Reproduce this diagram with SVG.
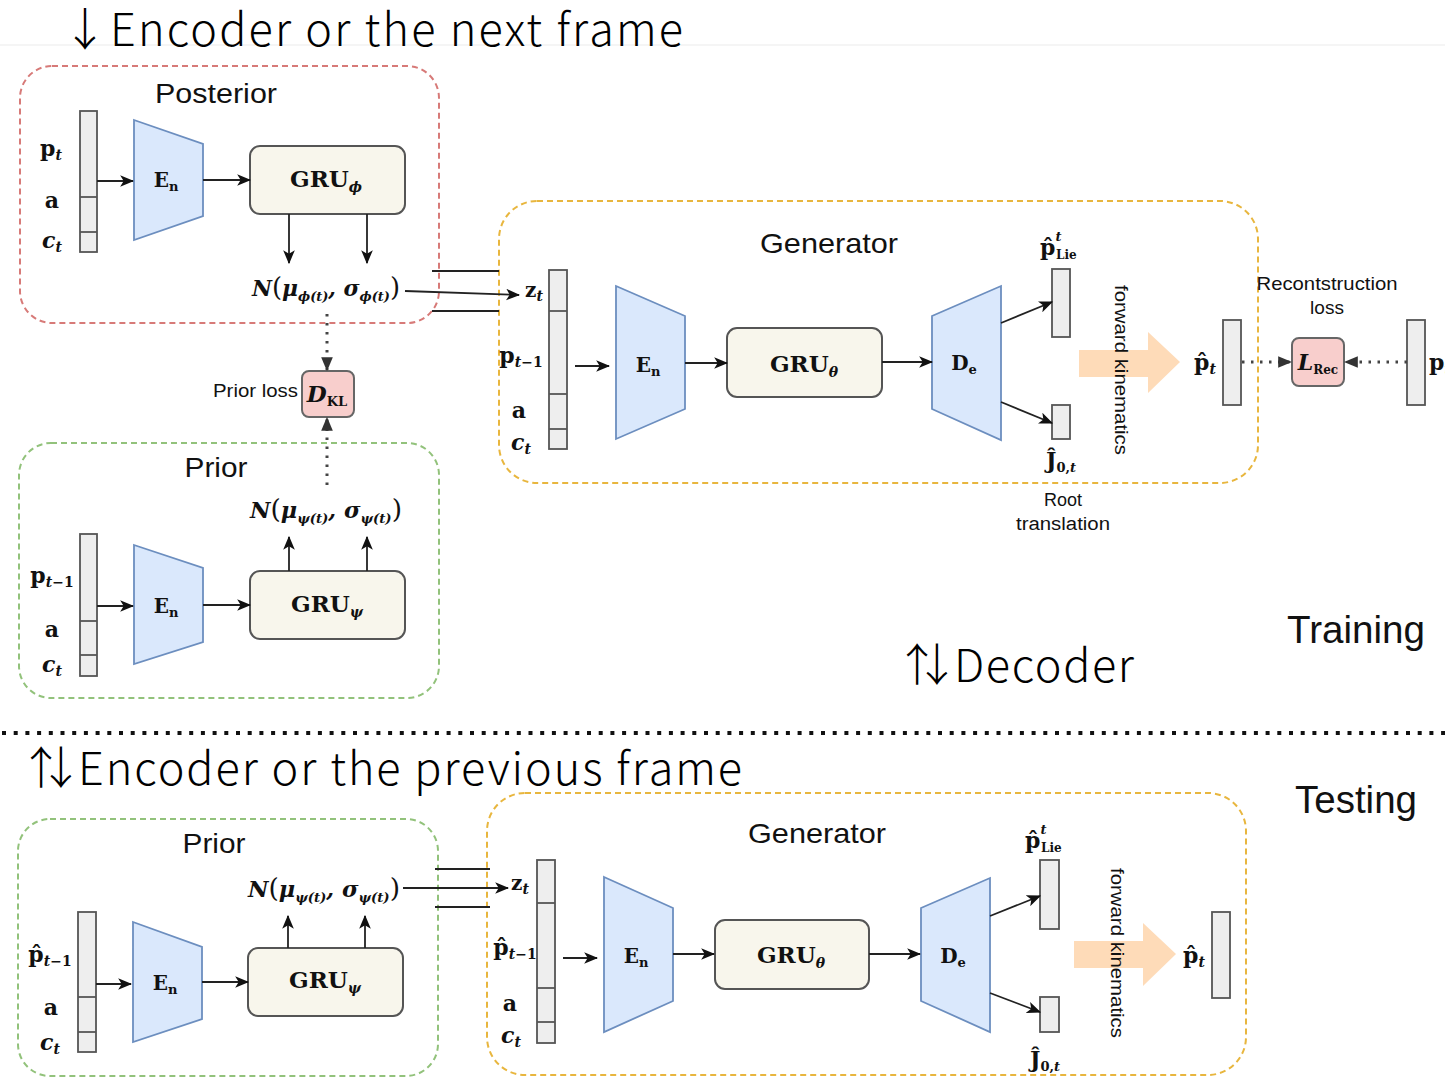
<svg xmlns="http://www.w3.org/2000/svg" width="1445" height="1080" viewBox="0 0 1445 1080">
<defs>
<style>
.lbl{font-family:"Liberation Sans",Arial,sans-serif;fill:#111;}
.m{font-family:"DejaVu Serif","Liberation Serif",serif;font-weight:bold;fill:#111;}
.i{font-style:italic;}
.ttl{font-family:"Noto Sans CJK JP","DejaVu Sans",sans-serif;font-weight:300;fill:#000;}
.post{fill:none;stroke:#d77a78;stroke-width:2;stroke-dasharray:6 4;}
.prior{fill:none;stroke:#92c27b;stroke-width:2;stroke-dasharray:6 4;}
.gen{fill:none;stroke:#e8b63e;stroke-width:2;stroke-dasharray:6 4;}
.trap{fill:#dae8fc;stroke:#6c8ebf;stroke-width:1.8;}
.gru{fill:#f8f6ec;stroke:#555;stroke-width:2;}
.bar{fill:#eeeeee;stroke:#555;stroke-width:1.8;}
.div{stroke:#555;stroke-width:1.8;}
.loss{fill:#f8cecc;stroke:#666;stroke-width:2;}
.fk{fill:#fedbb8;}
.ln{stroke:#222;stroke-width:1.8;fill:none;}
.arr{stroke:#222;stroke-width:1.8;fill:none;marker-end:url(#ah);}
.dot{stroke:#444;stroke-width:3;fill:none;stroke-dasharray:2.5 6.5;marker-end:url(#bh);}
</style>
<marker id="ah" viewBox="0 0 12 10" refX="11" refY="5" markerWidth="14" markerHeight="12" orient="auto" markerUnits="userSpaceOnUse">
<path d="M0,0 L12,5 L0,10 L3,5 z" fill="#111"/>
</marker>
<marker id="bh" viewBox="0 0 12 10" refX="11" refY="5" markerWidth="14" markerHeight="12" orient="auto" markerUnits="userSpaceOnUse">
<path d="M0,0 L12,5 L0,10 z" fill="#333"/>
</marker>
</defs>
<rect x="0" y="0" width="1445" height="1080" fill="#ffffff"/>
<line x1="0" y1="45" x2="1445" y2="45" stroke="#f2f2f2" stroke-width="1.5"/>

<!-- titles -->
<g id="titles">
<text class="ttl" x="85" y="46" font-size="45" text-anchor="middle">↓</text>
<text class="ttl" x="110" y="46" font-size="45" textLength="573">Encoder or the next frame</text>
<text class="ttl" x="927" y="682" font-size="45" text-anchor="middle">⇅</text>
<text class="ttl" x="954" y="682" font-size="45" textLength="180">Decoder</text>
<text class="ttl" x="51" y="785" font-size="45" text-anchor="middle">⇅</text>
<text class="ttl" x="78" y="785" font-size="45" textLength="664">Encoder or the previous frame</text>
<text class="lbl" x="1287" y="643" font-size="38" textLength="138" lengthAdjust="spacingAndGlyphs">Training</text>
<text class="lbl" x="1295" y="813" font-size="38" textLength="122" lengthAdjust="spacingAndGlyphs">Testing</text>
</g>

<!-- separator -->
<line x1="2" y1="733" x2="1445" y2="733" stroke="#111" stroke-width="4" stroke-dasharray="4 7.7"/>

<!-- ===== Training: Posterior ===== -->
<g id="posterior">
<rect class="post" x="20" y="66" width="419" height="257" rx="32"/>
<text class="lbl" x="216" y="103" font-size="27" text-anchor="middle" textLength="122" lengthAdjust="spacingAndGlyphs">Posterior</text>
</g>
<g id="post-input">
<rect class="bar" x="80" y="111" width="17" height="141"/>
<line class="div" x1="80" y1="197" x2="97" y2="197"/>
<line class="div" x1="80" y1="232" x2="97" y2="232"/>
<text class="m" x="51" y="156" font-size="22" text-anchor="middle">p<tspan class="i" font-size="14" dy="4">t</tspan></text>
<text class="m" x="52" y="208" font-size="22" text-anchor="middle">a</text>
<text class="m" x="52" y="248" font-size="22" text-anchor="middle"><tspan class="i">c</tspan><tspan class="i" font-size="14" dy="4">t</tspan></text>
</g>
<g id="post-en">
<polygon class="trap" points="134,120 203,144 203,216 134,240"/>
<text class="m" x="166" y="187" font-size="20" text-anchor="middle">E<tspan font-size="13" dy="4">n</tspan></text>
</g>
<g id="post-gru">
<rect class="gru" x="250" y="146" width="155" height="68" rx="10"/>
<text class="m" x="326" y="187" font-size="23" text-anchor="middle">GRU<tspan class="i" font-size="14" dy="5">ϕ</tspan></text>
</g>
<g id="post-dist">
<text class="m i" x="252" y="296" font-size="22" textLength="148" lengthAdjust="spacingAndGlyphs">N<tspan font-style="normal" font-weight="normal" font-size="26">(</tspan>μ<tspan font-size="13" dy="5">ϕ(t)</tspan><tspan dy="-5">, σ</tspan><tspan font-size="13" dy="5">ϕ(t)</tspan><tspan font-style="normal" font-weight="normal" font-size="26" dy="-5">)</tspan></text>
</g>

<!-- Prior loss -->
<g id="dkl">
<rect class="loss" x="302" y="371" width="52" height="46" rx="7"/>
<text class="m" x="327" y="402" font-size="23" text-anchor="middle"><tspan class="i">D</tspan><tspan font-size="13" dy="4">KL</tspan></text>
<text class="lbl" x="298" y="397" font-size="19" text-anchor="end" textLength="85" lengthAdjust="spacingAndGlyphs">Prior loss</text>
</g>

<!-- ===== Training: Prior ===== -->
<g id="prior-train">
<rect class="prior" x="19" y="443" width="420" height="255" rx="32"/>
<text class="lbl" x="216" y="477" font-size="27" text-anchor="middle" textLength="63" lengthAdjust="spacingAndGlyphs">Prior</text>
</g>
<g id="prior-input">
<rect class="bar" x="80" y="534" width="17" height="142"/>
<line class="div" x1="80" y1="621" x2="97" y2="621"/>
<line class="div" x1="80" y1="655" x2="97" y2="655"/>
<text class="m" x="52" y="583" font-size="22" text-anchor="middle">p<tspan font-size="14" dy="4"><tspan class="i">t</tspan>−1</tspan></text>
<text class="m" x="52" y="637" font-size="22" text-anchor="middle">a</text>
<text class="m" x="52" y="672" font-size="22" text-anchor="middle"><tspan class="i">c</tspan><tspan class="i" font-size="14" dy="4">t</tspan></text>
</g>
<g id="prior-en">
<polygon class="trap" points="134,545 203,568 203,642 134,664"/>
<text class="m" x="166" y="613" font-size="20" text-anchor="middle">E<tspan font-size="13" dy="4">n</tspan></text>
</g>
<g id="prior-gru">
<rect class="gru" x="250" y="571" width="155" height="68" rx="10"/>
<text class="m" x="327" y="612" font-size="23" text-anchor="middle">GRU<tspan class="i" font-size="14" dy="5">ψ</tspan></text>
</g>
<g id="prior-dist">
<text class="m i" x="250" y="518" font-size="22" textLength="152" lengthAdjust="spacingAndGlyphs">N<tspan font-style="normal" font-weight="normal" font-size="26">(</tspan>μ<tspan font-size="13" dy="5">ψ(t)</tspan><tspan dy="-5">, σ</tspan><tspan font-size="13" dy="5">ψ(t)</tspan><tspan font-style="normal" font-weight="normal" font-size="26" dy="-5">)</tspan></text>
</g>

<!-- ===== Training: Generator ===== -->
<g id="gen-train">
<rect class="gen" x="499" y="201" width="759" height="282" rx="38"/>
<text class="lbl" x="829" y="253" font-size="28" text-anchor="middle" textLength="138" lengthAdjust="spacingAndGlyphs">Generator</text>
</g>
<g id="gen-input">
<rect class="bar" x="549" y="270" width="18" height="179"/>
<line class="div" x1="549" y1="311" x2="567" y2="311"/>
<line class="div" x1="549" y1="394" x2="567" y2="394"/>
<line class="div" x1="549" y1="429" x2="567" y2="429"/>
<text class="m" x="534" y="297" font-size="20" text-anchor="middle">z<tspan class="i" font-size="14" dy="4">t</tspan></text>
<text class="m" x="521" y="363" font-size="22" text-anchor="middle">p<tspan font-size="14" dy="4"><tspan class="i">t</tspan>−1</tspan></text>
<text class="m" x="519" y="418" font-size="22" text-anchor="middle">a</text>
<text class="m" x="521" y="450" font-size="22" text-anchor="middle"><tspan class="i">c</tspan><tspan class="i" font-size="14" dy="4">t</tspan></text>
</g>
<g id="gen-en">
<polygon class="trap" points="616,286 685,316 685,409 616,439"/>
<text class="m" x="648" y="372" font-size="20" text-anchor="middle">E<tspan font-size="13" dy="4">n</tspan></text>
</g>
<g id="gen-gru">
<rect class="gru" x="727" y="328" width="155" height="69" rx="10"/>
<text class="m" x="804" y="372" font-size="23" text-anchor="middle">GRU<tspan class="i" font-size="14" dy="5">θ</tspan></text>
</g>
<g id="gen-de">
<polygon class="trap" points="932,316 1001,286 1001,440 932,409"/>
<text class="m" x="964" y="370" font-size="20" text-anchor="middle">D<tspan font-size="13" dy="4">e</tspan></text>
</g>
<g id="gen-plie">
<rect class="bar" x="1052" y="269" width="18" height="68"/>
<text class="m" x="1040" y="255" font-size="22">p̂<tspan class="i" font-size="13" dy="-14">t</tspan><tspan x="1056" font-size="12" dy="18">Lie</tspan></text>
</g>
<g id="gen-j">
<rect class="bar" x="1052" y="405" width="18" height="34"/>
<text class="m" x="1046" y="468" font-size="22">Ĵ<tspan font-size="13" dy="4">0,<tspan class="i">t</tspan></tspan></text>
<text class="lbl" x="1063" y="506" font-size="18" text-anchor="middle">Root</text>
<text class="lbl" x="1063" y="530" font-size="18" text-anchor="middle" textLength="94" lengthAdjust="spacingAndGlyphs">translation</text>
</g>
<g id="gen-fk">
<polygon class="fk" points="1079,350 1148,350 1148,332 1180,362 1148,393 1148,377 1079,377"/>
<text class="lbl" transform="translate(1121,370) rotate(90)" font-size="19" text-anchor="middle" dominant-baseline="central" textLength="170" lengthAdjust="spacingAndGlyphs">forward kinematics</text>
</g>
<g id="gen-pt">
<rect class="bar" x="1223" y="320" width="18" height="85"/>
<text class="m" x="1194" y="370" font-size="22">p̂<tspan class="i" font-size="14" dy="4">t</tspan></text>
</g>
<g id="lrec">
<rect class="loss" x="1292" y="338" width="52" height="48" rx="7"/>
<text class="m" x="1318" y="370" font-size="22" text-anchor="middle"><tspan class="i">L</tspan><tspan font-size="12" dy="4">Rec</tspan></text>
<text class="lbl" x="1327" y="290" font-size="19" text-anchor="middle" textLength="141" lengthAdjust="spacingAndGlyphs">Recontstruction</text>
<text class="lbl" x="1327" y="314" font-size="19" text-anchor="middle">loss</text>
</g>
<g id="gt-pt">
<rect class="bar" x="1407" y="320" width="18" height="85"/>
<text class="m" x="1429" y="370" font-size="22">p<tspan class="i" font-size="14" dy="4">t</tspan></text>
</g>

<!-- ===== Testing: Prior ===== -->
<g id="prior-test">
<rect class="prior" x="18" y="819" width="420" height="257" rx="32"/>
<text class="lbl" x="214" y="853" font-size="27" text-anchor="middle" textLength="63" lengthAdjust="spacingAndGlyphs">Prior</text>
</g>
<g id="prior-test-input">
<rect class="bar" x="78" y="912" width="18" height="140"/>
<line class="div" x1="78" y1="997" x2="96" y2="997"/>
<line class="div" x1="78" y1="1032" x2="96" y2="1032"/>
<text class="m" x="50" y="962" font-size="22" text-anchor="middle">p̂<tspan font-size="14" dy="4"><tspan class="i">t</tspan>−1</tspan></text>
<text class="m" x="51" y="1015" font-size="22" text-anchor="middle">a</text>
<text class="m" x="50" y="1050" font-size="22" text-anchor="middle"><tspan class="i">c</tspan><tspan class="i" font-size="14" dy="4">t</tspan></text>
</g>
<g id="prior-test-en">
<polygon class="trap" points="133,922 202,947 202,1019 133,1042"/>
<text class="m" x="165" y="990" font-size="20" text-anchor="middle">E<tspan font-size="13" dy="4">n</tspan></text>
</g>
<g id="prior-test-gru">
<rect class="gru" x="248" y="948" width="155" height="68" rx="10"/>
<text class="m" x="325" y="988" font-size="23" text-anchor="middle">GRU<tspan class="i" font-size="14" dy="5">ψ</tspan></text>
</g>
<g id="prior-test-dist">
<text class="m i" x="248" y="897" font-size="22" textLength="152" lengthAdjust="spacingAndGlyphs">N<tspan font-style="normal" font-weight="normal" font-size="26">(</tspan>μ<tspan font-size="13" dy="5">ψ(t)</tspan><tspan dy="-5">, σ</tspan><tspan font-size="13" dy="5">ψ(t)</tspan><tspan font-style="normal" font-weight="normal" font-size="26" dy="-5">)</tspan></text>
</g>

<!-- ===== Testing: Generator ===== -->
<g id="gen-test">
<rect class="gen" x="487" y="793" width="759" height="282" rx="38"/>
<text class="lbl" x="817" y="843" font-size="28" text-anchor="middle" textLength="138" lengthAdjust="spacingAndGlyphs">Generator</text>
</g>
<g id="gen-test-input">
<rect class="bar" x="537" y="860" width="18" height="183"/>
<line class="div" x1="537" y1="903" x2="555" y2="903"/>
<line class="div" x1="537" y1="988" x2="555" y2="988"/>
<line class="div" x1="537" y1="1022" x2="555" y2="1022"/>
<text class="m" x="520" y="890" font-size="20" text-anchor="middle">z<tspan class="i" font-size="14" dy="4">t</tspan></text>
<text class="m" x="515" y="955" font-size="22" text-anchor="middle">p̂<tspan font-size="14" dy="4"><tspan class="i">t</tspan>−1</tspan></text>
<text class="m" x="510" y="1011" font-size="22" text-anchor="middle">a</text>
<text class="m" x="511" y="1043" font-size="22" text-anchor="middle"><tspan class="i">c</tspan><tspan class="i" font-size="14" dy="4">t</tspan></text>
</g>
<g id="gen-test-en">
<polygon class="trap" points="604,877 673,908 673,1001 604,1032"/>
<text class="m" x="636" y="963" font-size="20" text-anchor="middle">E<tspan font-size="13" dy="4">n</tspan></text>
</g>
<g id="gen-test-gru">
<rect class="gru" x="715" y="920" width="154" height="69" rx="10"/>
<text class="m" x="791" y="963" font-size="23" text-anchor="middle">GRU<tspan class="i" font-size="14" dy="5">θ</tspan></text>
</g>
<g id="gen-test-de">
<polygon class="trap" points="921,908 990,878 990,1032 921,1001"/>
<text class="m" x="953" y="963" font-size="20" text-anchor="middle">D<tspan font-size="13" dy="4">e</tspan></text>
</g>
<g id="gen-test-plie">
<rect class="bar" x="1040" y="860" width="19" height="69"/>
<text class="m" x="1025" y="848" font-size="22">p̂<tspan class="i" font-size="13" dy="-14">t</tspan><tspan x="1041" font-size="12" dy="18">Lie</tspan></text>
</g>
<g id="gen-test-j">
<rect class="bar" x="1040" y="997" width="19" height="35"/>
<text class="m" x="1030" y="1067" font-size="22">Ĵ<tspan font-size="13" dy="4">0,<tspan class="i">t</tspan></tspan></text>
</g>
<g id="gen-test-fk">
<polygon class="fk" points="1074,941 1143,941 1143,923 1176,954 1143,986 1143,968 1074,968"/>
<text class="lbl" transform="translate(1117,953) rotate(90)" font-size="19" text-anchor="middle" dominant-baseline="central" textLength="170" lengthAdjust="spacingAndGlyphs">forward kinematics</text>
</g>
<g id="gen-test-pt">
<rect class="bar" x="1212" y="912" width="18" height="86"/>
<text class="m" x="1183" y="963" font-size="22">p̂<tspan class="i" font-size="14" dy="4">t</tspan></text>
</g>

<!-- ===== connectors ===== -->
<g id="connectors">
<line class="arr" x1="97" y1="181" x2="133" y2="181"/>
<line class="arr" x1="203" y1="180" x2="250" y2="180"/>
<line class="arr" x1="289" y1="214" x2="289" y2="263"/>
<line class="arr" x1="367" y1="214" x2="367" y2="263"/>
<line class="arr" x1="405" y1="291" x2="519" y2="295"/>
<line class="ln" x1="432" y1="271" x2="499" y2="271"/>
<line class="ln" x1="432" y1="311" x2="499" y2="311"/>
<line class="dot" x1="327" y1="314" x2="327" y2="370"/>
<line class="dot" x1="327" y1="485" x2="327" y2="418"/>
<line class="arr" x1="97" y1="606" x2="133" y2="606"/>
<line class="arr" x1="203" y1="605" x2="250" y2="605"/>
<line class="arr" x1="289" y1="571" x2="289" y2="537"/>
<line class="arr" x1="367" y1="571" x2="367" y2="537"/>
<line class="arr" x1="575" y1="366" x2="609" y2="366"/>
<line class="arr" x1="685" y1="363" x2="727" y2="363"/>
<line class="arr" x1="882" y1="362" x2="932" y2="362"/>
<line class="arr" x1="1001" y1="323" x2="1052" y2="302"/>
<line class="arr" x1="1001" y1="402" x2="1052" y2="423"/>
<line class="dot" x1="1242" y1="362" x2="1291" y2="362"/>
<line class="dot" x1="1407" y1="362" x2="1345" y2="362"/>
<line class="arr" x1="96" y1="984" x2="131" y2="984"/>
<line class="arr" x1="202" y1="982" x2="248" y2="982"/>
<line class="arr" x1="288" y1="948" x2="288" y2="916"/>
<line class="arr" x1="365" y1="948" x2="365" y2="916"/>
<line class="arr" x1="403" y1="888" x2="508" y2="888"/>
<line class="ln" x1="435" y1="869" x2="490" y2="869"/>
<line class="ln" x1="435" y1="907" x2="490" y2="907"/>
<line class="arr" x1="563" y1="958" x2="597" y2="958"/>
<line class="arr" x1="673" y1="954" x2="714" y2="954"/>
<line class="arr" x1="869" y1="954" x2="920" y2="954"/>
<line class="arr" x1="990" y1="916" x2="1040" y2="896"/>
<line class="arr" x1="990" y1="993" x2="1040" y2="1012"/>
</g>
</svg>
